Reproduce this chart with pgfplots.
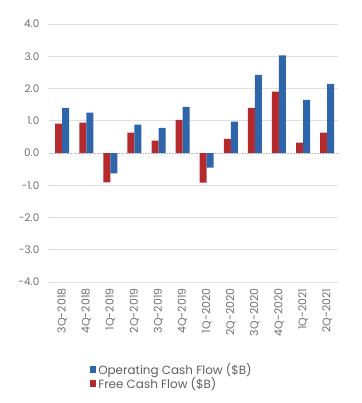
\documentclass[border=0pt]{standalone}
\usepackage{pgfplots}
\pgfplotsset{compat=1.18}
\usepackage{fontspec}
\setmainfont{Poppins}
\definecolor{fcfred}{HTML}{B52A2C}
\definecolor{ocfblue}{HTML}{2F65AB}
\definecolor{txtgray}{HTML}{707070}
\begin{document}
\begin{tikzpicture}
\path[use as bounding box] (-49bp,-121bp) rectangle (313bp,282bp);
\begin{axis}[
  scale only axis,
  width=289bp, height=258bp,
  clip=false,
  ybar=0pt, bar width=7bp,
  xmin=-0.55, xmax=11.45,
  ymin=-4, ymax=4,
  axis x line*=bottom, axis y line*=left,
  axis line style={draw=none},
  tick style={draw=none},
  ytick={-4,-3,-2,-1,1,2,3,4},
  yticklabels={-4.0,-3.0,-2.0,-1.0,1.0,2.0,3.0,4.0},
  extra y ticks={0},
  extra y tick labels={0.0},
  extra y tick style={grid style={gray!55, densely dotted}, tick style={draw=none}},
  ymajorgrids, grid style={gray!25, line width=0.6pt},
  major tick length=0pt,
  xtick={0,...,11},
  xticklabels={3Q-2018,4Q-2018,1Q-2019,2Q-2019,3Q-2019,4Q-2019,1Q-2020,2Q-2020,3Q-2020,4Q-2020,1Q-2021,2Q-2021},
  x tick label style={rotate=90, anchor=east, font=\fontsize{11}{11}\selectfont, text=txtgray},
  y tick label style={font=\fontsize{10.5}{11}\selectfont, text=txtgray},
  xticklabel shift=3bp,
  yticklabel shift=6bp,
  reverse legend,
  legend style={at={(0.13,-0.30)}, anchor=north west, draw=none, fill=none,
    font=\fontsize{12}{13}\selectfont, text=txtgray!85!black, row sep=-3pt},
  legend cell align=left,
  legend image code/.code={\fill[#1] (0bp,-3bp) rectangle (6.5bp,3.5bp);},
]
\addplot[fill=fcfred, draw=none] coordinates {
(0,0.91) (1,0.94) (2,-0.91) (3,0.63) (4,0.38) (5,1.03) (6,-0.92) (7,0.44) (8,1.40) (9,1.90) (10,0.32) (11,0.63)};
\addlegendentry{Free Cash Flow (\$B)}
\addplot[fill=ocfblue, draw=none] coordinates {
(0,1.40) (1,1.25) (2,-0.63) (3,0.88) (4,0.78) (5,1.43) (6,-0.45) (7,0.97) (8,2.42) (9,3.03) (10,1.65) (11,2.14)};
\addlegendentry{Operating Cash Flow (\$B)}
\end{axis}
\end{tikzpicture}
\end{document}
